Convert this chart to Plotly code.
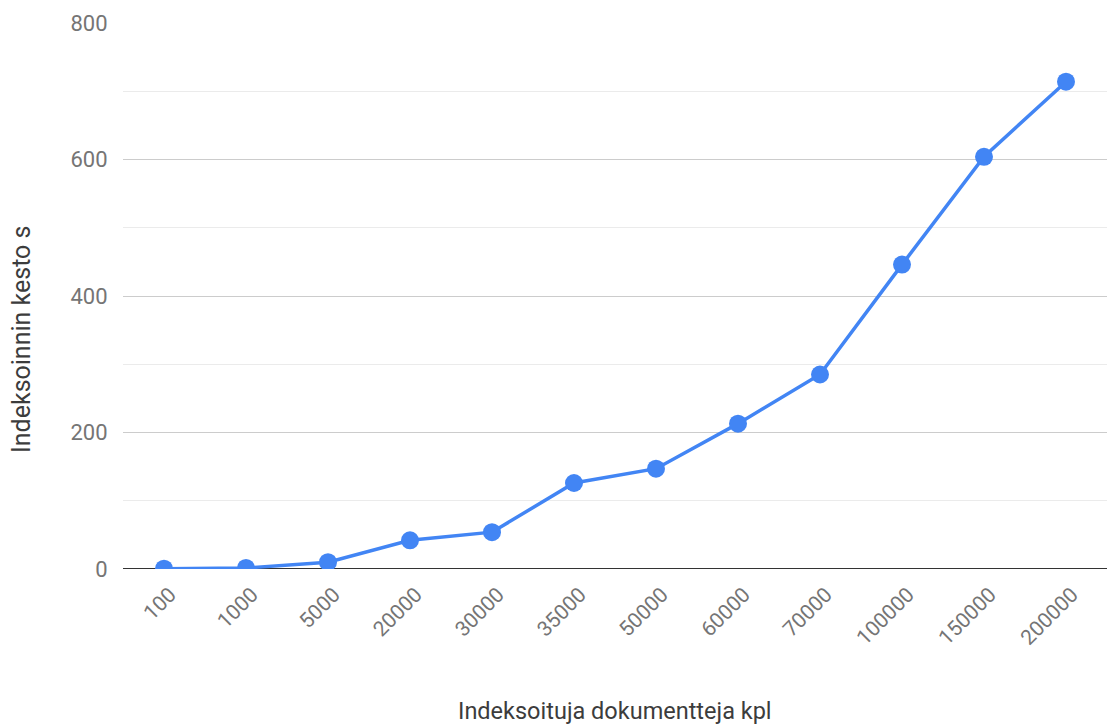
import plotly.graph_objects as go

categories = ["100", "1000", "5000", "20000", "30000", "35000", "50000",
              "60000", "70000", "100000", "150000", "200000"]
durations = [0.5, 1.5, 10, 42, 54, 126, 147, 213, 285, 446, 604, 714]
y_ticks = [0, 200, 400, 600, 800]

FONT = "Roboto"
TICK_COLOR = "#757575"
TITLE_COLOR = "#3c3c3c"
BLUE = "#4285F4"

fig = go.Figure()
fig.add_trace(go.Scatter(
    x=categories, y=durations, mode="lines+markers",
    line=dict(color=BLUE, width=3.5),
    marker=dict(color=BLUE, size=18),
    cliponaxis=True,
    hoverinfo="x+y",
))

fig.update_layout(
    width=1108, height=727,
    margin=dict(l=123, r=1, t=23, b=158),
    paper_bgcolor="white", plot_bgcolor="white",
    showlegend=False,
    font=dict(family=FONT, size=22, color=TICK_COLOR),
    xaxis=dict(
        type="category",
        range=[-0.5, len(categories) - 0.5],
        tickangle=-45,
        showgrid=False,
        showline=False,
        zeroline=False,
        ticks="outside", ticklen=4, tickcolor="rgba(0,0,0,0)",
        ticklabelshift=6,
        tickfont=dict(family=FONT, size=21, color=TICK_COLOR),
    ),
    yaxis=dict(
        range=[0, 800],
        tickvals=y_ticks,
        showgrid=True, gridcolor="#cccccc", gridwidth=1.3,
        minor=dict(dtick=100, tick0=0, showgrid=True, gridcolor="#ebebeb", gridwidth=1.3),
        zeroline=False,
        showline=False,
        ticks="outside", ticklen=10, tickcolor="rgba(0,0,0,0)",
        tickfont=dict(family=FONT, size=22, color=TICK_COLOR),
    ),
    shapes=[dict(type="line", xref="paper", yref="y", x0=0, x1=1, y0=0, y1=0,
                 line=dict(color="#333333", width=2.2), layer="below")],
    annotations=[
        dict(text="Indeksoinnin kesto s", xref="paper", yref="paper",
             x=0, y=(569 - 340) / 546, xshift=-101, textangle=-90,
             xanchor="center", yanchor="middle", showarrow=False,
             font=dict(family=FONT, size=25, color=TITLE_COLOR)),
        dict(text="Indeksoituja dokumentteja kpl", xref="paper", yref="paper",
             x=0.5, y=(569 - 711) / 546, xanchor="center", yanchor="middle",
             showarrow=False,
             font=dict(family=FONT, size=23.5, color=TITLE_COLOR)),
    ],
)

fig.write_html("out.html")
